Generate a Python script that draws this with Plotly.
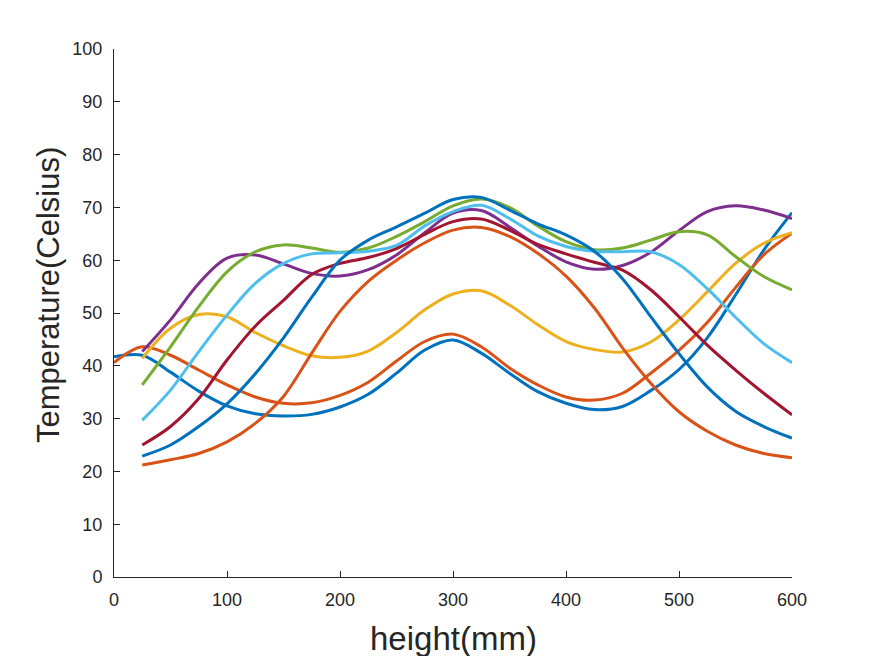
import plotly.graph_objects as go

x_full = [0, 25, 50, 75, 100, 125, 150, 175, 200, 225, 250, 275, 300, 325, 350,
          375, 400, 425, 450, 475, 500, 525, 550, 575, 600]
x_part = x_full[1:]

s1_blue = [41.7, 42.0, 38.8, 35.2, 32.4, 30.9, 30.5, 30.8, 32.2, 34.6, 38.6, 43.0, 44.9,
           42.4, 38.6, 35.1, 32.9, 31.7, 32.3, 35.3, 39.3, 45.3, 53.4, 61.9, 69.0]
s2_orange = [40.6, 43.6, 42.0, 39.2, 36.4, 34.1, 32.9, 33.0, 34.4, 36.9, 40.9, 44.6, 46.0,
             43.6, 39.6, 36.4, 34.1, 33.5, 34.8, 38.6, 42.9, 48.2, 54.8, 61.0, 65.1]
s3_yellow = [41.4, 47.1, 49.7, 49.3, 46.3, 43.8, 41.9, 41.6, 42.8, 46.3, 50.6, 53.6,
             54.2, 51.5, 47.8, 44.6, 43.1, 42.6, 44.5, 48.7, 54.0, 59.4, 63.2, 65.2]
s4_purple = [42.7, 48.7, 55.6, 60.4, 61.0, 59.3, 57.5, 57.0, 58.2, 61.0, 65.2, 68.9,
             69.4, 66.3, 62.7, 59.7, 58.3, 59.0, 61.5, 65.6, 69.2, 70.3, 69.5, 67.9]
s5_green = [36.4, 43.6, 51.2, 57.8, 61.6, 62.9, 62.3, 61.5, 62.3, 64.5, 67.3, 70.3,
            71.6, 70.0, 66.5, 63.5, 62.0, 62.3, 63.8, 65.4, 64.8, 60.7, 56.9, 54.4]
s6_lightblue = [29.7, 35.4, 42.7, 49.6, 55.6, 59.4, 61.2, 61.4, 61.7, 62.8, 66.5, 69.2,
                70.4, 67.9, 64.6, 62.6, 61.7, 61.6, 61.6, 59.2, 54.6, 49.2, 44.2, 40.6]
s7_darkred = [25.0, 28.5, 33.8, 41.1, 47.5, 52.4, 57.3, 59.4, 60.5, 62.2, 64.9, 67.3,
              67.8, 65.7, 63.0, 61.2, 59.6, 58.1, 54.4, 49.3, 43.9, 39.2, 34.8, 30.7]
s8_blue = [22.9, 25.0, 28.5, 32.8, 38.5, 45.3, 53.0, 60.0, 63.8, 66.3, 68.9, 71.5,
           71.9, 69.5, 66.9, 64.8, 61.7, 56.5, 49.3, 42.3, 36.0, 31.4, 28.5, 26.3]
s9_orange = [21.2, 22.2, 23.4, 25.6, 29.1, 34.2, 42.4, 50.3, 56.0, 60.0, 63.3, 65.7,
             66.2, 64.5, 61.3, 57.0, 51.0, 43.4, 36.7, 31.3, 27.6, 25.0, 23.4, 22.6]

x_ticks = [0, 100, 200, 300, 400, 500, 600]
y_ticks = [0, 10, 20, 30, 40, 50, 60, 70, 80, 90, 100]
x_label = "height(mm)"
y_label = "Temperature(Celsius)"

series = [
    (x_full, s1_blue, "#0072BD"),
    (x_full, s2_orange, "#D95319"),
    (x_part, s3_yellow, "#EDB120"),
    (x_part, s4_purple, "#7E2F8E"),
    (x_part, s5_green, "#77AC30"),
    (x_part, s6_lightblue, "#4DBEEE"),
    (x_part, s7_darkred, "#A2142F"),
    (x_part, s8_blue, "#0072BD"),
    (x_part, s9_orange, "#D95319"),
]

fig = go.Figure()
for xs, ys, c in series:
    fig.add_trace(go.Scatter(x=xs, y=ys, mode="lines",
                             line=dict(color=c, width=3, shape="spline", smoothing=1.0),
                             showlegend=False, hoverinfo="skip"))

FONT = "Liberation Sans, Arial, sans-serif"
axis_common = dict(
    showgrid=False, zeroline=False, showline=True, linecolor="#262626", linewidth=1,
    ticks="inside", ticklen=6, tickcolor="#262626", mirror=False, automargin=False,
    tickfont=dict(family=FONT, size=18, color="#262626"),
)

fig.update_layout(
    width=875, height=656,
    margin=dict(l=114, r=83, t=49, b=79),
    paper_bgcolor="white", plot_bgcolor="white",
    xaxis=dict(range=[0, 600], tickvals=x_ticks, ticklabelstandoff=6, **axis_common),
    yaxis=dict(range=[0, 100], tickvals=y_ticks, ticklabelstandoff=7, **axis_common),
    annotations=[
        dict(text=x_label, xref="paper", yref="paper", x=0.5, y=-0.117,
             xanchor="center", yanchor="middle", showarrow=False,
             font=dict(family=FONT, size=33, color="#262626")),
        dict(text=y_label, xref="paper", yref="paper", x=-0.0973, y=0.534,
             xanchor="center", yanchor="middle", showarrow=False, textangle=-90,
             font=dict(family=FONT, size=31, color="#262626")),
    ],
)

fig.write_html("out.html", config={"displayModeBar": False},
               post_script="document.body.style.margin='0';")
